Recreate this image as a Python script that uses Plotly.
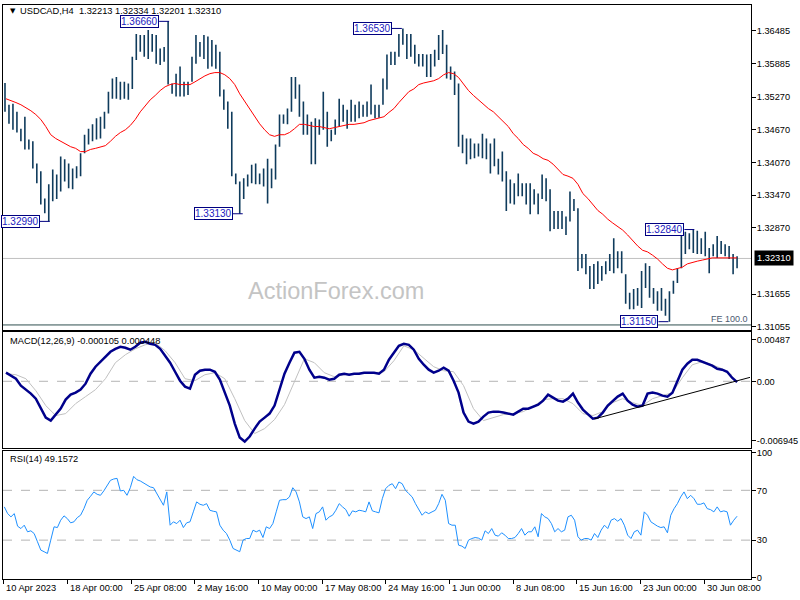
import numpy as np
import plotly.graph_objects as go

# ---------------- DATA ----------------
# price bars (each entry = one 8h pair of H4 bars), high / low
bar_high = [1.3553,1.3513,1.3515,1.3500,1.3469,1.3491,1.3449,1.3446,1.3405,1.3391,
1.3341,1.3367,1.3394,1.3385,1.3418,1.3413,1.3405,1.3396,1.3400,1.3424,
1.3458,1.3469,1.3477,1.3488,1.3491,1.3500,1.3537,1.3561,1.3564,1.3555,
1.3555,1.3552,1.3601,1.3643,1.3641,1.3641,1.3650,1.3643,1.3641,1.3616,
1.3619,1.3666,1.3552,1.3570,1.3583,1.3555,1.3555,1.3601,1.3641,1.3628,
1.3641,1.3638,1.3632,1.3623,1.3610,1.3541,1.3519,1.3500,1.3387,1.3372,
1.3378,1.3385,1.3403,1.3405,1.3387,1.3396,1.3414,1.3396,1.3440,1.3495,
1.3495,1.3506,1.3564,1.3564,1.3550,1.3519,1.3495,1.3482,1.3488,1.3486,
1.3537,1.3500,1.3467,1.3486,1.3524,1.3513,1.3504,1.3522,1.3513,1.3519,
1.3513,1.3519,1.3550,1.3513,1.3513,1.3561,1.3605,1.3610,1.3610,1.3643,
1.3653,1.3643,1.3643,1.3623,1.3606,1.3606,1.3605,1.3606,1.3614,1.3641,
1.3650,1.3623,1.3583,1.3574,1.3552,1.3458,1.3451,1.3451,1.3442,1.3442,
1.3460,1.3451,1.3442,1.3451,1.3414,1.3427,1.3391,1.3376,1.3369,1.3387,
1.3369,1.3369,1.3369,1.3358,1.3350,1.3385,1.3378,1.3358,1.3318,1.3318,
1.3318,1.3308,1.3354,1.3340,1.3323,1.3239,1.3239,1.3217,1.3221,1.3226,
1.3217,1.3226,1.3239,1.3268,1.3244,1.3244,1.3202,1.3168,1.3175,1.3177,
1.3208,1.3222,1.3217,1.3177,1.3171,1.3177,1.3157,1.3171,1.3190,1.3213,
1.3281,1.3280,1.3277,1.3284,1.3282,1.3268,1.3280,1.3250,1.3257,1.3272,
1.3263,1.3257,1.3254,1.3239,1.3235]
bar_low = [1.3500,1.3478,1.3467,1.3462,1.3446,1.3431,1.3431,1.3396,1.3369,1.3330,
1.3314,1.3299,1.3336,1.3340,1.3354,1.3372,1.3360,1.3358,1.3378,1.3382,
1.3424,1.3440,1.3446,1.3449,1.3451,1.3469,1.3497,1.3524,1.3524,1.3522,
1.3524,1.3522,1.3542,1.3595,1.3610,1.3601,1.3597,1.3610,1.3588,1.3586,
1.3592,1.3550,1.3533,1.3528,1.3528,1.3528,1.3531,1.3555,1.3588,1.3601,
1.3597,1.3579,1.3583,1.3579,1.3528,1.3504,1.3469,1.3382,1.3367,1.3313,
1.3340,1.3363,1.3369,1.3367,1.3367,1.3363,1.3332,1.3360,1.3376,1.3436,
1.3478,1.3477,1.3500,1.3524,1.3491,1.3458,1.3458,1.3404,1.3404,1.3458,
1.3467,1.3436,1.3446,1.3458,1.3473,1.3482,1.3469,1.3482,1.3482,1.3488,
1.3491,1.3491,1.3495,1.3488,1.3489,1.3513,1.3541,1.3586,1.3586,1.3601,
1.3623,1.3597,1.3601,1.3588,1.3583,1.3583,1.3564,1.3564,1.3583,1.3595,
1.3606,1.3561,1.3559,1.3531,1.3436,1.3424,1.3404,1.3413,1.3415,1.3418,
1.3415,1.3413,1.3387,1.3400,1.3385,1.3372,1.3318,1.3332,1.3330,1.3345,
1.3345,1.3330,1.3312,1.3330,1.3312,1.3340,1.3336,1.3281,1.3285,1.3285,
1.3285,1.3274,1.3299,1.3318,1.3208,1.3213,1.3202,1.3175,1.3175,1.3184,
1.3190,1.3202,1.3208,1.3204,1.3213,1.3204,1.3148,1.3138,1.3138,1.3144,
1.3140,1.3177,1.3159,1.3148,1.3135,1.3135,1.3126,1.3115,1.3166,1.3186,
1.3213,1.3239,1.3248,1.3241,1.3239,1.3239,1.3235,1.3204,1.3235,1.3232,
1.3239,1.3235,1.3230,1.3202,1.3213]

# moving average (red)
ma = [1.3524,1.3521,1.3517,1.3513,1.3508,1.3502,1.3495,1.3486,1.3473,1.3458,
1.3451,1.3446,1.3440,1.3436,1.3433,1.3427,1.3427,1.3431,1.3433,1.3435,
1.3438,1.3446,1.3455,1.3462,1.3467,1.3475,1.3486,1.3500,1.3511,1.3522,
1.3530,1.3539,1.3546,1.3550,1.3552,1.3550,1.3550,1.3550,1.3555,1.3561,
1.3566,1.3570,1.3572,1.3572,1.3568,1.3561,1.3550,1.3533,1.3519,1.3504,
1.3491,1.3478,1.3467,1.3458,1.3455,1.3458,1.3458,1.3462,1.3469,1.3477,
1.3477,1.3475,1.3473,1.3473,1.3471,1.3469,1.3471,1.3473,1.3475,1.3477,
1.3477,1.3478,1.3480,1.3484,1.3486,1.3488,1.3491,1.3499,1.3506,1.3517,
1.3528,1.3537,1.3542,1.3550,1.3553,1.3555,1.3557,1.3561,1.3568,1.3572,
1.3570,1.3563,1.3550,1.3539,1.3530,1.3522,1.3513,1.3506,1.3500,1.3491,
1.3482,1.3473,1.3460,1.3451,1.3440,1.3433,1.3424,1.3420,1.3414,1.3411,
1.3404,1.3394,1.3385,1.3382,1.3378,1.3367,1.3350,1.3341,1.3330,1.3319,
1.3312,1.3303,1.3296,1.3290,1.3283,1.3274,1.3263,1.3254,1.3246,1.3243,
1.3237,1.3230,1.3221,1.3213,1.3210,1.3212,1.3215,1.3221,1.3224,1.3226,
1.3228,1.3230,1.3232,1.3232,1.3232,1.3233,1.3232,1.3232]

# MACD main line
macd = [0.00101,0.00066,0.00030,-0.00051,-0.00098,-0.00145,-0.00204,-0.00321,-0.00426,-0.00461,
-0.00391,-0.00321,-0.00215,-0.00157,-0.00133,-0.00098,-0.00028,0.00089,0.00171,0.00229,
0.00276,0.00346,0.00381,0.00405,0.00393,0.00370,0.00405,0.00452,0.00463,0.00440,
0.00428,0.00381,0.00300,0.00218,0.00112,0.00007,-0.00063,-0.00087,0.00077,0.00124,
0.00136,0.00136,0.00112,0.00019,-0.00133,-0.00285,-0.00496,-0.00660,-0.00707,-0.00648,
-0.00555,-0.00473,-0.00426,-0.00379,-0.00285,-0.00110,0.00089,0.00218,0.00335,0.00346,
0.00264,0.00136,0.00042,0.00054,0.00042,0.00019,0.00030,0.00077,0.00089,0.00077,
0.00089,0.00089,0.00101,0.00101,0.00101,0.00089,0.00136,0.00253,0.00335,0.00416,
0.00440,0.00428,0.00370,0.00264,0.00194,0.00136,0.00101,0.00124,0.00159,0.00124,
0.00007,-0.00133,-0.00367,-0.00473,-0.00496,-0.00473,-0.00414,-0.00367,-0.00356,-0.00356,
-0.00367,-0.00379,-0.00391,-0.00356,-0.00321,-0.00321,-0.00297,-0.00274,-0.00227,-0.00157,
-0.00192,-0.00227,-0.00239,-0.00204,-0.00145,-0.00250,-0.00332,-0.00391,-0.00438,-0.00426,
-0.00367,-0.00285,-0.00227,-0.00180,-0.00145,-0.00227,-0.00274,-0.00297,-0.00285,-0.00145,
-0.00133,-0.00145,-0.00168,-0.00180,-0.00133,0.00007,0.00136,0.00206,0.00253,0.00253,
0.00229,0.00206,0.00183,0.00147,0.00136,0.00112,0.00042,-0.00010]

# MACD signal line
signal = [0.00089,0.00077,0.00030,-0.00110,-0.00285,-0.00402,-0.00379,-0.00262,-0.00180,-0.00098,
0.00030,0.00218,0.00311,0.00381,0.00428,0.00452,0.00358,0.00218,0.00030,0.00007,
0.00077,0.00101,0.00030,-0.00204,-0.00461,-0.00613,-0.00555,-0.00449,-0.00274,-0.00005,
0.00264,0.00218,0.00101,0.00054,0.00077,0.00089,0.00101,0.00101,0.00112,0.00241,
0.00416,0.00370,0.00276,0.00171,0.00124,0.00112,-0.00051,-0.00321,-0.00461,-0.00426,
-0.00391,-0.00379,-0.00356,-0.00297,-0.00215,-0.00204,-0.00204,-0.00262,-0.00379,-0.00402,
-0.00356,-0.00250,-0.00204,-0.00250,-0.00285,-0.00204,-0.00168,-0.00133,0.00042,0.00194,
0.00229,0.00194,0.00147,0.00070]

# RSI(14)
rsi = [56.7,51.3,48.7,51.3,41.2,39.3,42.0,36.7,37.5,35.3,
28.7,22.0,20.7,19.3,30.0,40.7,40.1,46.0,49.5,47.3,
43.9,44.7,48.1,50.0,55.3,62.0,65.2,68.7,66.8,66.0,
69.5,74.0,78.0,79.1,79.6,69.5,70.0,66.0,72.1,81.2,
78.5,77.5,75.9,74.0,72.7,72.1,67.3,62.5,58.0,68.7,
42.0,44.7,43.3,46.0,40.1,43.9,44.7,52.7,60.7,58.8,
58.0,59.3,54.0,53.2,52.7,42.0,38.0,35.3,30.0,23.3,
22.0,20.7,30.0,31.3,31.3,38.0,36.7,38.0,32.1,40.7,
39.3,43.3,52.7,62.0,62.5,62.5,64.7,72.1,68.7,60.7,
48.7,47.3,48.7,39.3,51.3,52.7,56.7,46.0,48.7,50.0,
54.0,59.3,56.7,54.5,49.2,53.5,52.7,54.0,53.5,52.7,
60.7,53.5,52.7,51.9,63.3,71.3,74.0,75.3,71.3,76.7,
75.3,70.0,67.3,64.7,59.3,54.0,50.0,52.7,51.3,52.7,
54.0,59.3,66.8,62.0,43.3,42.0,42.0,26.0,25.2,23.3,
30.0,31.3,32.1,31.6,30.0,37.5,35.3,39.3,34.0,33.2,
35.9,34.0,31.3,31.3,32.1,35.3,39.3,34.0,36.7,36.7,
40.7,32.7,51.3,48.7,47.3,43.3,36.7,39.3,36.7,38.0,
48.7,50.0,46.0,32.7,30.0,31.3,31.3,30.0,35.3,32.1,
38.0,42.0,39.3,46.0,47.3,45.2,47.3,42.0,34.0,31.3,
36.7,38.0,34.0,52.7,50.0,44.7,42.8,41.2,40.1,40.7,
35.9,50.0,55.3,59.3,64.7,68.7,63.3,66.0,63.3,58.8,
58.8,59.9,55.3,54.5,52.7,56.7,52.7,53.5,52.7,42.0,
46.0,49.2]

# sample times in H4-bar units
bar_t = 0.5 + 2 * np.arange(len(bar_high))
ma_t = 1 + 2.5 * np.arange(len(ma))
macd_t = 1 + 2.5 * np.arange(len(macd))
sig_t = 1 + 5 * np.arange(len(signal))
rsi_t = (10 / 3 * (np.arange(len(rsi)) + 1) - 3) / 2

tick_t = [0, 32, 64, 96, 128, 160, 192, 224, 256, 288, 320, 352]
tick_text = ["10 Apr 2023", "18 Apr 00:00", "25 Apr 08:00", "2 May 16:00", "10 May 00:00",
             "17 May 08:00", "24 May 16:00", "1 Jun 00:00", "8 Jun 08:00", "15 Jun 16:00",
             "23 Jun 00:00", "30 Jun 08:00"]

price_ticks = [1.36485, 1.35885, 1.35270, 1.34670, 1.34070, 1.33470, 1.32870, 1.31655, 1.31055]
macd_ticks = [0.00487, 0.0, -0.006945]
macd_tick_text = ["0.00487", "0.00", "-0.006945"]
rsi_ticks = [100, 70, 30, 0]

swing_labels = ["1.36660", "1.32990", "1.33130", "1.36530", "1.32840", "1.31150"]
swing_price = [1.36660, 1.32990, 1.33130, 1.36530, 1.32840, 1.31150]
swing_t = [83, 23, 120, 200, 347, 334]

last_price = 1.32310
fe_level = 1.3109
trend_t = [296.8, 375]
trend_v = [-0.00441, 0.00046]

# ---------------- FIGURE ----------------
FONT = "Liberation Sans, Arial, sans-serif"
BAR_COLOR = "#0f3b5c"
fig = go.Figure()

bx, by = [], []
for t, h, l in zip(bar_t, bar_high, bar_low):
    bx += [t, t, None]
    by += [l, h, None]
fig.add_trace(go.Scatter(x=bx, y=by, mode="lines", line=dict(color=BAR_COLOR, width=1.6),
                         xaxis="x", yaxis="y", hoverinfo="skip"))
fig.add_trace(go.Scatter(x=ma_t, y=ma, mode="lines", line=dict(color="#ff0000", width=1),
                         xaxis="x", yaxis="y"))
fig.add_trace(go.Scatter(x=sig_t, y=signal, mode="lines", line=dict(color="#c0c0c0", width=1),
                         xaxis="x2", yaxis="y2"))
fig.add_trace(go.Scatter(x=macd_t, y=macd, mode="lines", line=dict(color="#00008b", width=2.5),
                         xaxis="x2", yaxis="y2"))
fig.add_trace(go.Scatter(x=trend_t, y=trend_v, mode="lines", line=dict(color="#000000", width=1),
                         xaxis="x2", yaxis="y2"))
fig.add_trace(go.Scatter(x=rsi_t, y=rsi, mode="lines", line=dict(color="#1e90ff", width=1),
                         xaxis="x3", yaxis="y3"))

# pixel -> paper helpers (plot area: x 2..754, y 3..579)
def px(x):
    return (x - 2) / 752.0

def py(y):
    return (579 - y) / 576.0

xr = [-0.5, 375.5]
xcommon = dict(range=xr, showgrid=False, zeroline=False, showline=True, mirror=True,
               linecolor="#000000", linewidth=1, fixedrange=True)
ycommon = dict(side="right", showgrid=False, zeroline=False, showline=True, mirror=True,
               linecolor="#000000", linewidth=1, ticks="outside", ticklen=4, tickcolor="#000000",
               ticklabelstandoff=-1, fixedrange=True,
               tickfont=dict(family=FONT, size=9.2, color="#000000"))

fig.update_layout(
    width=800, height=600,
    margin=dict(l=2, r=46, t=3, b=21),
    paper_bgcolor="#ffffff", plot_bgcolor="#ffffff",
    showlegend=False,
    xaxis=dict(domain=[0, 1], anchor="y", showticklabels=False, ticks="", **xcommon),
    xaxis2=dict(domain=[0, 1], anchor="y2", showticklabels=False, ticks="", **xcommon),
    xaxis3=dict(domain=[0, 1], anchor="y3", showticklabels=False, ticks="outside", ticklen=4,
                tickcolor="#000000", tickvals=tick_t, **xcommon),
    yaxis=dict(domain=[0.4335, 1.0], anchor="x", range=[1.30994, 1.3696],
               tickvals=price_ticks, ticktext=["%.5f" % v for v in price_ticks], **ycommon),
    yaxis2=dict(domain=[0.2286, 0.4306], anchor="x2", range=[-0.0078, 0.0058],
                tickvals=macd_ticks, ticktext=macd_tick_text, **ycommon),
    yaxis3=dict(domain=[0.0, 0.2222], anchor="x3", range=[-1.2, 101.2],
                tickvals=rsi_ticks, ticktext=[str(v) for v in rsi_ticks], **ycommon),
)

shapes = [
    dict(type="line", xref="x", yref="y", x0=xr[0], x1=xr[1], y0=last_price, y1=last_price,
         line=dict(color="#c0c0c0", width=1), layer="below"),
    dict(type="line", xref="x", yref="y", x0=xr[0], x1=xr[1], y0=fe_level, y1=fe_level,
         line=dict(color="#2f4f4f", width=1)),
    dict(type="line", xref="x2", yref="y2", x0=xr[0], x1=xr[1], y0=0, y1=0,
         line=dict(color="#b4b4b4", width=1, dash="dash"), layer="below"),
    dict(type="line", xref="x3", yref="y3", x0=xr[0], x1=xr[1], y0=70, y1=70,
         line=dict(color="#b4b4b4", width=1, dash="dash"), layer="below"),
    dict(type="line", xref="x3", yref="y3", x0=xr[0], x1=xr[1], y0=30, y1=30,
         line=dict(color="#b4b4b4", width=1, dash="dash"), layer="below"),
]
for t, p in zip(swing_t, swing_price):
    shapes.append(dict(type="line", xref="x", yref="y", x0=t - 5, x1=t, y0=p, y1=p,
                       line=dict(color="#000080", width=1)))

annotations = []
for txt, t, p in zip(swing_labels, swing_t, swing_price):
    annotations.append(dict(x=t - 5, y=p, xref="x", yref="y", text=txt, showarrow=False,
                            xanchor="right", yanchor="middle",
                            font=dict(family=FONT, size=10, color="#2020c0"),
                            bgcolor="#ffffff", bordercolor="#000080", borderwidth=1, borderpad=0))

annotations += [
    dict(x=px(7), y=py(9.5), xref="paper", yref="paper", text="▼", showarrow=False,
         xanchor="left", yanchor="middle", font=dict(family="DejaVu Sans", size=7, color="#000000")),
    dict(x=px(17), y=py(9.5), xref="paper", yref="paper",
         text="USDCAD,H4  1.32213 1.32334 1.32201 1.32310", showarrow=False,
         xanchor="left", yanchor="middle", font=dict(family=FONT, size=9.3, color="#000000")),
    dict(x=px(7), y=py(340), xref="paper", yref="paper",
         text="MACD(12,26,9) -0.000105 0.000448", showarrow=False,
         xanchor="left", yanchor="middle", font=dict(family=FONT, size=9.3, color="#000000")),
    dict(x=px(7), y=py(459), xref="paper", yref="paper", text="RSI(14) 49.1572", showarrow=False,
         xanchor="left", yanchor="middle", font=dict(family=FONT, size=9.3, color="#000000")),
    dict(x=px(337), y=py(290), xref="paper", yref="paper", text="ActionForex.com", showarrow=False,
         xanchor="center", yanchor="middle", font=dict(family=FONT, size=23.5, color="#c4c4c4")),
    dict(x=1.0, y=fe_level, xref="paper", yref="y", text="FE 100.0", showarrow=False,
         xanchor="right", yanchor="bottom", xshift=-1, yshift=-1,
         font=dict(family=FONT, size=9, color="#4a5a70")),
    dict(x=1.0, y=last_price, xref="paper", yref="y", text="1.32310", showarrow=False,
         xanchor="left", yanchor="middle", xshift=3, bgcolor="#000000", borderpad=2,
         font=dict(family=FONT, size=9.3, color="#ffffff")),
]
for t, txt in zip(tick_t, tick_text):
    annotations.append(dict(x=t, y=py(588), xref="x3", yref="paper", text=txt, showarrow=False,
                            xanchor="left", yanchor="middle", xshift=0.5,
                            font=dict(family=FONT, size=9.3, color="#000000")))

fig.update_layout(shapes=shapes, annotations=annotations)
fig.write_html("out.html", config={"displayModeBar": False},
               post_script="document.body.style.margin='0';document.body.style.overflow='hidden';")
